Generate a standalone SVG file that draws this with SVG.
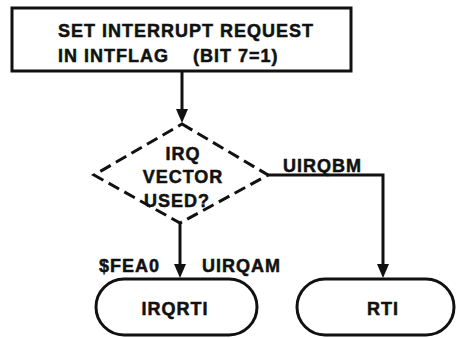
<svg xmlns="http://www.w3.org/2000/svg" width="456" height="338" viewBox="0 0 456 338">
  <style>
    .shape { fill: #fff; stroke: #111; stroke-width: 3; }
    .dash { stroke-dasharray: 12 6; }
    .line { fill: none; stroke: #111; stroke-width: 3; }
    .head { fill: #111; }
    text { font-family: "Liberation Sans", Arial, sans-serif; font-weight: bold; font-size: 18px; fill: #111; stroke: #111; stroke-width: 0.5px; letter-spacing: 1px; }
    .c { text-anchor: middle; }
  </style>
  <rect width="456" height="338" fill="#fff"/>

  <g id="connectors">
    <path class="line" d="M182,71 V109" />
    <path class="head" d="M176,109 L188,109 L182,123 Z"/>
    <path class="line" d="M180,223 V264" />
    <path class="head" d="M174,264 L186,264 L180,278 Z"/>
    <path class="line" d="M267,175 H383 V264" />
    <path class="head" d="M377,264 L389,264 L383,278 Z"/>
  </g>

  <g id="set-request">
    <rect class="shape" x="12" y="8" width="339" height="63"/>
    <text x="58" y="37">SET INTERRUPT REQUEST</text>
    <text x="58" y="62">IN INTFLAG<tspan x="193">(BIT 7=1)</tspan></text>
  </g>

  <g id="irq-decision">
    <polygon class="shape dash" points="182,124 268,175 180,223 94,175"/>
    <text class="c" x="183" y="160">IRQ</text>
    <text class="c" x="183" y="183">VECTOR</text>
    <text class="c" x="177" y="207">USED?</text>
  </g>

  <g id="labels">
    <text x="283" y="172">UIRQBM</text>
    <text x="99" y="272">$FEA0</text>
    <text x="202" y="272">UIRQAM</text>
  </g>

  <g id="irqrti">
    <rect class="shape" x="96" y="279" width="161" height="56" rx="28"/>
    <text class="c" x="175" y="315">IRQRTI</text>
  </g>

  <g id="rti">
    <rect class="shape" x="297" y="279" width="157" height="56" rx="28"/>
    <text class="c" x="383" y="315">RTI</text>
  </g>
</svg>
